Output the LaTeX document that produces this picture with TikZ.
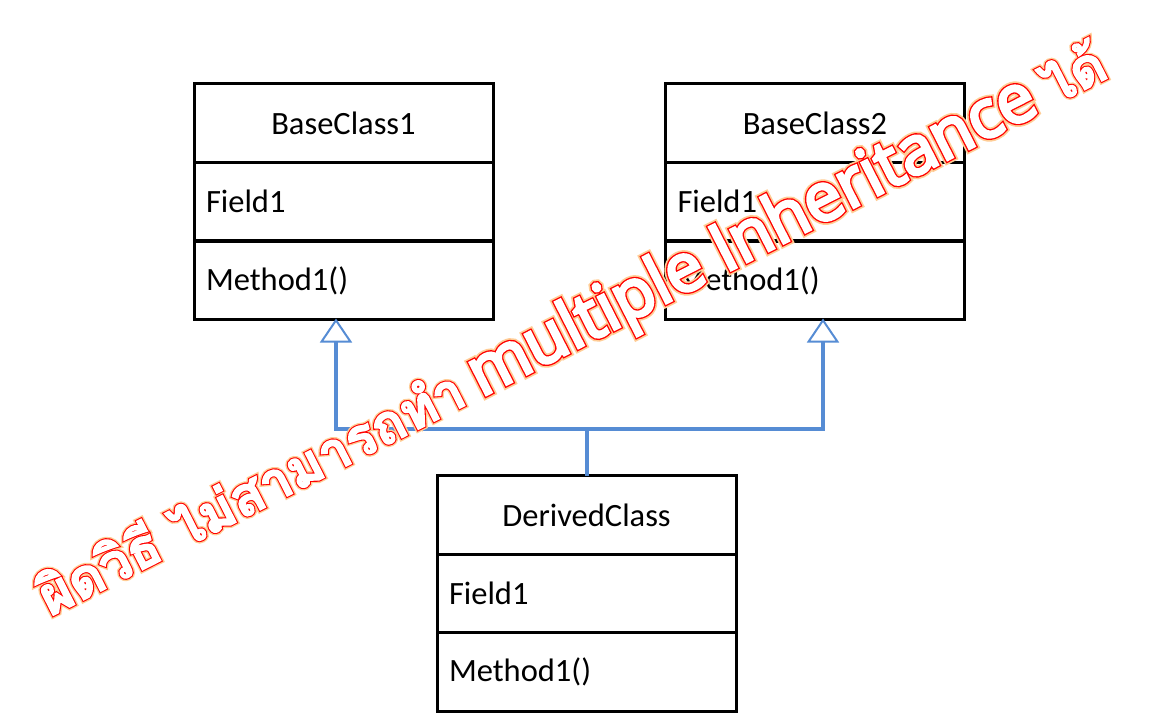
\documentclass[tikz,border=0pt]{standalone}
\usepackage{fontspec}
\setmainfont{Carlito}
\newfontfamily\thW[Script=Thai, FakeBold=2.5]{Loma}
\newfontfamily\thR[Script=Thai, FakeBold=6.5]{Loma}
\newfontfamily\thG[Script=Thai, FakeBold=11.5]{Loma}
\newfontfamily\laW[FakeBold=4.5]{Open Sans}
\newfontfamily\laR[FakeBold=8.5]{Open Sans}
\newfontfamily\laG[FakeBold=13.5]{Open Sans}
\usetikzlibrary{arrows.meta}
\definecolor{umlblue}{RGB}{86,140,212}
\definecolor{glowc}{RGB}{255,205,150}
% #1 = Thai family, #2 = Latin family
\newcommand{\warnline}[2]{{#1\bfseries\fontsize{54}{58}\selectfont ผิดวิธี ไม่สามารถทำ} {#2\fontsize{67}{69}\selectfont multiple Inheritance} {#1\bfseries\fontsize{54}{58}\selectfont ได้}}
\begin{document}
\begin{tikzpicture}[x=1pt,y=-1pt,
  cls/.style={draw=black, line width=3pt, minimum width=299pt, minimum height=78.6pt,
    inner sep=0pt, outer sep=0pt, font=\fontsize{32.5}{36}\selectfont},
  fld/.style={cls, text width=275pt, align=left},
  inh/.style={draw=umlblue, line width=4pt},
  tipstyle/.style={{Triangle[open, length=24pt, width=32pt, line width=2pt]}-{Triangle[open, length=24pt, width=32pt, line width=2pt]}},
  warn/.style={rotate=27, inner sep=0pt, anchor=base west, font=\fontsize{58}{60}\selectfont}
]
\useasboundingbox[fill=white] (0,0) rectangle (1160,717);

% BaseClass1
\node[cls] (b1t) at (343.5,123) {BaseClass1};
\node[fld] (b1f) at (343.5,201.5) {Field1};
\node[fld] (b1m) at (343.5,280.5) {Method1()};
% BaseClass2
\node[cls] (b2t) at (815,123) {BaseClass2};
\node[fld] (b2f) at (815,201.5) {Field1};
\node[fld] (b2m) at (815,280.5) {Method1()};
% DerivedClass
\node[cls] (dt) at (586.5,515) {DerivedClass};
\node[fld] (df) at (586.5,593.5) {Field1};
\node[fld] (dm) at (586.5,672) {Method1()};

% connectors
\coordinate (j) at (586.5,429);
\coordinate (a1) at (336,318.5);
\coordinate (a2) at (823,318.5);
\draw[inh] (dt.north) -- (j);
\draw[inh, tipstyle] (a1) |- (j) -| (a2);

% warning text: glow, red outline, white fill
\coordinate (wc) at (50,617);
\node[warn, text=glowc] (glowtxt) at (wc) {\warnline{\thG}{\laG}};
\node[warn, text=red] (outline) at (wc) {\warnline{\thR}{\laR}};
\node[warn, text=white] (warntxt) at (wc) {\warnline{\thW}{\laW}};
\end{tikzpicture}
\end{document}
